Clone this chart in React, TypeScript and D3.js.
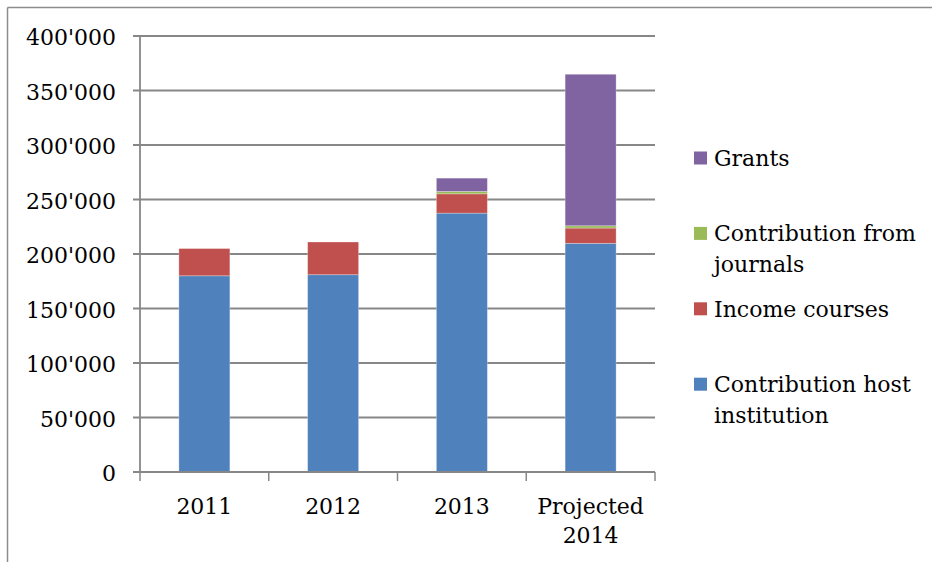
import React from 'react';
import * as d3 from 'd3';

const categories = ['2011', '2012', '2013', 'Projected 2014'];
const categoryLines = [['2011'], ['2012'], ['2013'], ['Projected', '2014']];

// stack order, bottom to top
const seriesNames = [
  'Contribution host institution',
  'Income courses',
  'Contribution from journals',
  'Grants',
];
const hostInstitution = [180000, 181000, 237500, 209800];
const incomeCourses = [25000, 30000, 17700, 14000];
const journals = [0, 0, 2200, 2100];
const grants = [0, 0, 12200, 139000];

const legendLines = [
  ['Grants'],
  ['Contribution from', 'journals'],
  ['Income courses'],
  ['Contribution host', 'institution'],
];

const yTicks = [0, 50000, 100000, 150000, 200000, 250000, 300000, 350000, 400000];

const colors = ['#4F81BD', '#C0504D', '#9BBB59', '#8064A2'];

const W = 932;
const H = 562;
const FONT = "'DejaVu Serif', serif";

const App: React.FC = () => {
  const plot = { left: 140, right: 655, top: 36, bottom: 472 };

  const x = d3
    .scaleBand()
    .domain(categories)
    .range([plot.left, plot.right])
    .paddingInner(0.604)
    .paddingOuter(0.302);

  const y = d3.scaleLinear().domain([0, 400000]).range([plot.bottom, plot.top]);

  const swiss = d3.formatLocale({
    decimal: '.',
    thousands: "'",
    grouping: [3],
    currency: ['', ''],
  });
  const fmt = swiss.format(',');

  const rows = categories.map((c, i) => ({
    cat: c,
    s0: hostInstitution[i],
    s1: incomeCourses[i],
    s2: journals[i],
    s3: grants[i],
  }));
  const stacked = d3.stack<any>().keys(['s0', 's1', 's2', 's3'])(rows);

  const step = x.step();
  const boundaries = d3.range(categories.length + 1).map(
    (i) => plot.left + i * step
  );

  return (
    <svg
      width={W}
      height={H}
      style={{ position: 'absolute', left: 0, top: 0, background: '#fff' }}
      fontFamily={FONT}
    >
      {/* frame */}
      <line x1={7.5} x2={W} y1={7.5} y2={7.5} stroke="#8c8c8c" strokeWidth={1.5} />
      <line x1={7.5} x2={7.5} y1={7.5} y2={H} stroke="#8c8c8c" strokeWidth={1.5} />

      {/* gridlines + y ticks */}
      {yTicks.map((t) => (
        <g key={t}>
          {t > 0 && (
            <line
              x1={plot.left - 7}
              x2={plot.right}
              y1={y(t)}
              y2={y(t)}
              stroke="#878787"
              strokeWidth={1.8}
            />
          )}
          <text
            x={116}
            y={y(t)}
            dy={9}
            textAnchor="end"
            fontSize={22}
            fill="#000"
          >
            {fmt(t)}
          </text>
        </g>
      ))}

      {/* bars */}
      {stacked.map((layer, si) => (
        <g key={layer.key} fill={colors[si]}>
          {layer.map((d, i) =>
            d[1] - d[0] > 0 ? (
              <rect
                key={i}
                x={x(categories[i])}
                y={y(d[1])}
                width={x.bandwidth()}
                height={y(d[0]) - y(d[1])}
                stroke="rgba(255,255,255,0.35)"
                strokeWidth={0.8}
              />
            ) : null
          )}
        </g>
      ))}

      {/* axes */}
      <line
        x1={plot.left}
        x2={plot.left}
        y1={plot.top}
        y2={plot.bottom}
        stroke="#878787"
        strokeWidth={1.8}
      />
      <line
        x1={plot.left - 7}
        x2={plot.right}
        y1={plot.bottom}
        y2={plot.bottom}
        stroke="#878787"
        strokeWidth={1.8}
      />
      {boundaries.map((bx, i) => (
        <line
          key={i}
          x1={bx}
          x2={bx}
          y1={plot.bottom}
          y2={plot.bottom + 9}
          stroke="#878787"
          strokeWidth={1.5}
        />
      ))}

      {/* x labels */}
      {categoryLines.map((lines, i) => (
        <text
          key={i}
          x={(x(categories[i]) || 0) + x.bandwidth() / 2}
          y={514}
          textAnchor="middle"
          fontSize={22}
          fill="#000"
        >
          {lines.map((l, li) => (
            <tspan key={li} x={(x(categories[i]) || 0) + x.bandwidth() / 2} dy={li === 0 ? 0 : 29}>
              {l}
            </tspan>
          ))}
        </text>
      ))}

      {/* legend */}
      {legendLines.map((lines, i) => {
        const base = 166 + i * 75.4;
        const colorIdx = seriesNames.length - 1 - i;
        return (
          <g key={i}>
            <rect x={694} y={base - 14.5} width={13} height={13} fill={colors[colorIdx]} />
            <text x={714} y={base} fontSize={22} fill="#000">
              {lines.map((l, li) => (
                <tspan key={li} x={714} dy={li === 0 ? 0 : 30.5}>
                  {l}
                </tspan>
              ))}
            </text>
          </g>
        );
      })}
    </svg>
  );
};

export default App;
